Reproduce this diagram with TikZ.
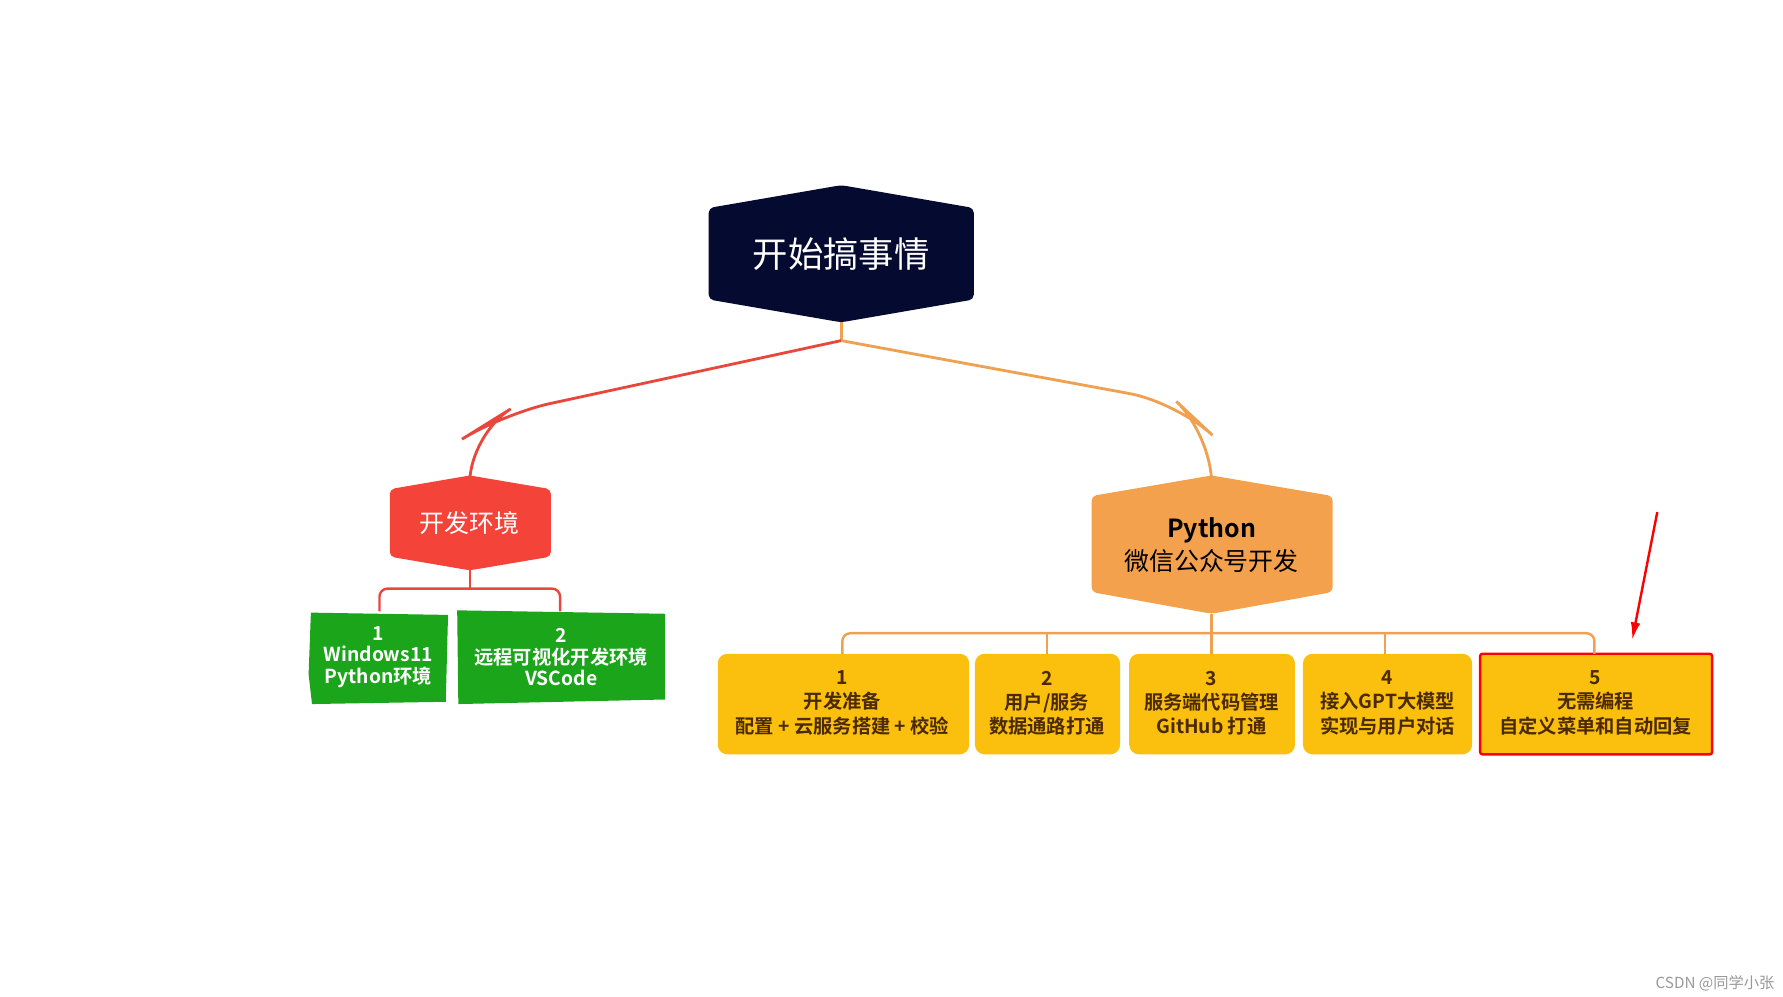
\documentclass[tikz,border=0pt]{standalone}
\usepackage{fontspec}
\usetikzlibrary{arrows.meta}
\setmainfont{Noto Sans CJK SC}
\newfontfamily\cjkb{Noto Sans CJK SC Bold}
\definecolor{navy}{HTML}{050A30}
\definecolor{hred}{HTML}{F4443A}
\definecolor{lred}{HTML}{E8473C}
\definecolor{horange}{HTML}{F4A14D}
\definecolor{lorange}{HTML}{EFA050}
\definecolor{gbox}{HTML}{1BA51B}
\definecolor{ybox}{HTML}{FBBF0E}
\definecolor{brown}{HTML}{4A2A00}
\begin{document}
\begin{tikzpicture}[x=0.05cm,y=-0.05cm,
  gtext/.style={text=white,font=\cjkb\fontsize{24}{27}\selectfont,align=center},
  ytext/.style={text=brown,font=\cjkb\fontsize{24}{30}\selectfont,align=center},
  conn/.style={line width=3.5pt,rounded corners=22pt},
  gfill/.style={fill=gbox},
  yfill/.style={fill=ybox}]
\useasboundingbox (0,0) rectangle (1560,872);
% root
\fill[navy,rounded corners=6pt] (736,162)--(852,182)--(852,262)--(736,282)--(620,262)--(620,182)--cycle;
\node[text=white,font=\fontsize{44}{48}\selectfont] (root) at (736,222) {开始搞事情};
\coordinate (rb) at (736,282);
\coordinate (rj) at (736,298);
% level 2 hexes
\fill[hred,rounded corners=6pt] (411,416)--(482,428)--(482,487)--(411,499)--(341,487)--(341,428)--cycle;
\node[text=white,font=\fontsize{31}{34}\selectfont] (env) at (411,458) {开发环境};
\coordinate (envt) at (411,416);
\coordinate (envb) at (411,499);
\fill[horange,rounded corners=6pt] (1060,416)--(1166,434)--(1166,518)--(1060,537)--(955,518)--(955,434)--cycle;
\node[text=black,align=center,font=\fontsize{31}{42}\selectfont] (py) at (1060,477) {{\cjkb Python}\\微信公众号开发};
\coordinate (pyt) at (1060,416);
\coordinate (pyb) at (1060,537);
% root connectors
\draw[lorange,conn] (rb)--(rj);
\draw[lred,conn,rounded corners=60pt] (rj)--(440,362)--(411,380)--(envt);
\draw[lorange,conn,rounded corners=60pt] (rj)--(1030,352)--(1060,380)--(pyt);
% green boxes
\fill[gfill] (272,536)--(392,538)--(390,614)--(273,616)--(270,590)--cycle;
\fill[gfill] (400,534)--(582,537)--(582,612)--(401,616)--cycle;
\node[gtext] (g1) at (331,575) {1\\Windows11\\Python环境};
\node[gtext] (g2) at (491,575) {2\\远程可视化开发环境\\VSCode};
\draw[lred,line width=3pt] (envb)--(411,515);
\draw[lred,line width=3pt,rounded corners=10pt] (332,535)--(332,515)--(490,515)--(490,535);
% yellow boxes
\fill[yfill,rounded corners=12pt] (628,572) rectangle (848,660);
\fill[yfill,rounded corners=12pt] (853,572) rectangle (980,660);
\fill[yfill,rounded corners=12pt] (988,572) rectangle (1133,660);
\fill[yfill,rounded corners=12pt] (1140,572) rectangle (1288,660);
\fill[yfill] (1295,572) rectangle (1498,660);
\draw[red,line width=3pt,rounded corners=3pt] (1295,572) rectangle (1498,660);
\node[ytext] (y1) at (737,615) {1\\开发准备\\配置 + 云服务搭建 + 校验};
\node[ytext] (y2) at (916,615) {2\\用户/服务\\数据通路打通};
\node[ytext] (y3) at (1060,615) {3\\服务端代码管理\\GitHub 打通};
\node[ytext] (y4) at (1214,615) {4\\接入GPT大模型\\实现与用户对话};
\node[ytext] (y5) at (1396,615) {5\\无需编程\\自定义菜单和自动回复};
\draw[lorange,line width=3pt] (pyb)--(1060,572);
\draw[lorange,line width=3pt,rounded corners=10pt] (737,572)--(737,554)--(1395,554)--(1395,572);
\draw[lorange,line width=3pt,rounded corners=10pt] (916,572)--(916,554);
\draw[lorange,line width=3pt,rounded corners=10pt] (1212,572)--(1212,554);
% red arrow
\coordinate (as) at (1450,448);
\coordinate (ae) at (1428,560);
\draw[red,line width=3pt,-{Latex[length=22pt,width=12pt]}] (as)--(ae);
% watermark
\node[text=gray!80,font=\fontsize{19}{22}\selectfont,anchor=east] (wm) at (1555,860) {CSDN @同学小张};
\end{tikzpicture}
\end{document}
